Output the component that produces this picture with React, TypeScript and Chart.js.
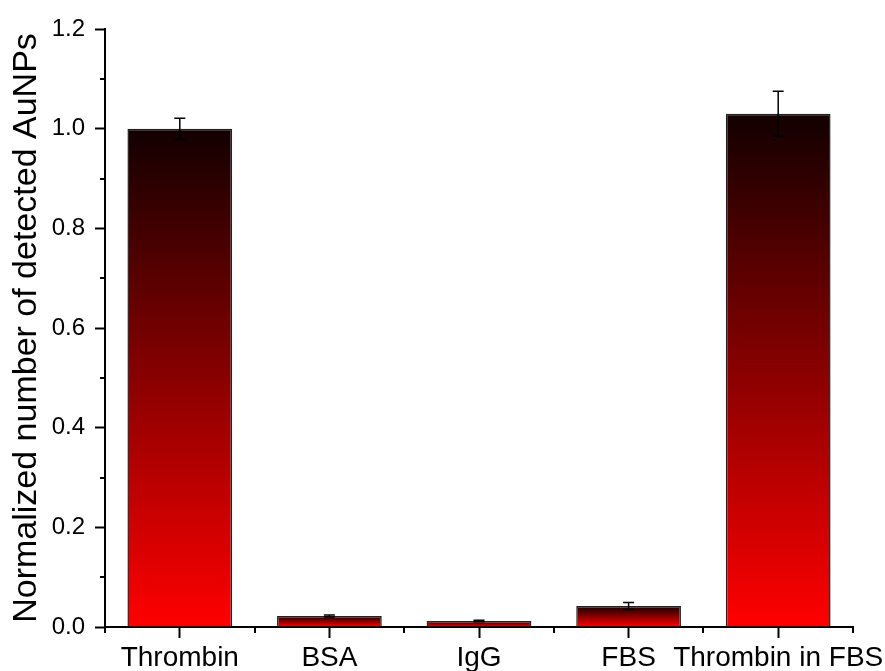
import { useEffect, useRef } from 'react';
import { Chart, registerables } from 'chart.js';
Chart.register(...registerables);

const categories = ['Thrombin', 'BSA', 'IgG', 'FBS', 'Thrombin in FBS'];
const values = [1.0, 0.022, 0.012, 0.042, 1.03];
const errors = [0.021, 0.002, 0.0015, 0.007, 0.045];
const yMin = 0;
const yMax = 1.2;
const yStep = 0.2;
const yMinorTicks = [0.1, 0.3, 0.5, 0.7, 0.9, 1.1];
const yTitle = 'Normalized number of detected AuNPs';

const FONT = "'Liberation Sans', Arial, sans-serif";

const extrasPlugin = {
  id: 'extras',
  afterDatasetsDraw(chart: any) {
    const { ctx } = chart;
    const ys = chart.scales.y;
    const meta = chart.getDatasetMeta(0);
    ctx.save();
    ctx.strokeStyle = '#000';
    ctx.lineWidth = 1.5;
    meta.data.forEach((bar: any, i: number) => {
      const x = bar.x;
      const yt = ys.getPixelForValue(values[i] + errors[i]);
      const yb = ys.getPixelForValue(values[i] - errors[i]);
      ctx.beginPath();
      ctx.moveTo(x, yt);
      ctx.lineTo(x, yb);
      ctx.moveTo(x - 5.5, yt);
      ctx.lineTo(x + 5.5, yt);
      ctx.moveTo(x - 5.5, yb);
      ctx.lineTo(x + 5.5, yb);
      ctx.stroke();
    });
    ctx.restore();
  },
  afterDraw(chart: any) {
    const { ctx, chartArea } = chart;
    const ys = chart.scales.y;
    ctx.save();
    ctx.strokeStyle = '#000';
    ctx.lineWidth = 2;
    ctx.beginPath();
    yMinorTicks.forEach((v) => {
      const y = Math.round(ys.getPixelForValue(v));
      ctx.moveTo(chartArea.left - 5, y);
      ctx.lineTo(chartArea.left, y);
    });
    const n = categories.length;
    const w = (chartArea.right - chartArea.left) / n;
    for (let i = 0; i <= n; i++) {
      const x = Math.round(chartArea.left + i * w);
      ctx.moveTo(x, chartArea.bottom);
      ctx.lineTo(x, chartArea.bottom + 6);
    }
    ctx.stroke();
    ctx.restore();
  },
};

export default function App() {
  const ref = useRef<HTMLCanvasElement | null>(null);
  useEffect(() => {
    if (!ref.current) return;
    const chart = new Chart(ref.current, {
      type: 'bar',
      data: {
        labels: categories,
        datasets: [
          {
            data: values,
            backgroundColor: (c: any) => {
              const ch = c.chart;
              const ys = ch.scales?.y;
              if (!ch.chartArea || !ys || c.dataIndex === undefined) return '#ff0000';
              const top = ys.getPixelForValue(values[c.dataIndex]);
              const bot = ys.getPixelForValue(0);
              if (!isFinite(top) || !isFinite(bot)) return '#ff0000';
              const g = ch.ctx.createLinearGradient(0, bot, 0, top);
              g.addColorStop(0, '#ff0000');
              g.addColorStop(1, '#120000');
              return g;
            },
            borderColor: '#222',
            borderWidth: 1.5,
            barPercentage: 0.7,
            categoryPercentage: 1,
          },
        ],
      },
      options: {
        animation: false,
        responsive: true,
        maintainAspectRatio: false,
        layout: { padding: { top: 29, right: 32, left: 0, bottom: 0 } },
        plugins: { legend: { display: false }, tooltip: { enabled: false } },
        scales: {
          x: {
            type: 'category',
            offset: true,
            grid: {
              display: true,
              drawOnChartArea: false,
              offset: false,
              tickLength: 11,
              tickColor: '#000',
              tickWidth: 2,
            },
            border: { display: true, color: '#000', width: 2 },
            ticks: {
              color: '#000',
              padding: 3,
              maxRotation: 0,
              autoSkip: false,
              font: { family: FONT, size: 28 },
            },
            afterFit: (s: any) => {
              s.height = 44;
              s.paddingLeft = 0;
              s.paddingRight = 0;
            },
          },
          y: {
            min: yMin,
            max: yMax,
            grid: {
              display: true,
              drawOnChartArea: false,
              tickLength: 10,
              tickColor: '#000',
              tickWidth: 2,
            },
            border: { display: true, color: '#000', width: 2 },
            ticks: {
              stepSize: yStep,
              color: '#000',
              padding: 10,
              font: { family: FONT, size: 24 },
              callback: (v: any) => Number(v).toFixed(1),
            },
            title: {
              display: true,
              text: yTitle,
              color: '#000',
              padding: { top: 6, bottom: 0 },
              font: { family: FONT, size: 34 },
            },
            afterFit: (s: any) => {
              s.width = 105;
            },
          },
        },
      },
      plugins: [extrasPlugin],
    });
    return () => chart.destroy();
  }, []);
  return (
    <div style={{ position: 'absolute', left: 0, top: 0, width: 885, height: 671, background: '#fff' }}>
      <canvas ref={ref} />
    </div>
  );
}
